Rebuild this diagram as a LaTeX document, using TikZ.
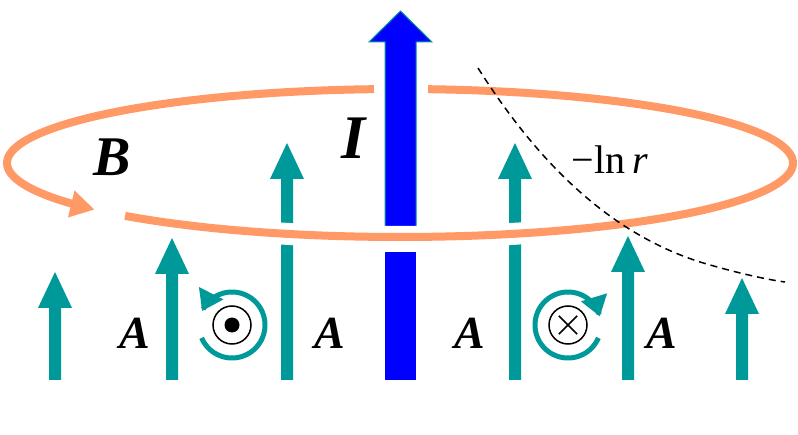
\documentclass[tikz,border=0pt]{standalone}
\usepackage{fontspec}
\setmainfont{Liberation Serif}
\usetikzlibrary{arrows.meta}
\definecolor{teal2}{HTML}{009999}
\definecolor{orng}{HTML}{FF9966}
\begin{document}
\begin{tikzpicture}[x=1pt,y=-1pt,
  lab/.style={font=\fontsize{46}{46}\selectfont\bfseries\itshape},
  ring/.style={teal2,line width=5pt,-{Triangle[length=20pt,width=26pt]}},
  ell/.style={orng,line width=8pt}]
\useasboundingbox (0,0) rectangle (798,435);
% teal arrows
\foreach \n/\x/\t in {a1/55/272,a2/172/238,a3/287/143,a4/515/143,a5/628/236,a6/742/278}{
  \fill[teal2] (\x-6,380) -- (\x-6,\t+36) -- (\x-17,\t+36) -- (\x,\t) coordinate (\n) -- (\x+17,\t+36) -- (\x+6,\t+36) -- (\x+6,380) -- cycle;
}
% blue arrow
\fill[blue] (385,252) rectangle (416,380);
\draw[teal2,line width=1pt,fill=blue] (385,230) -- (385,42) -- (369,42) -- (400.5,11) coordinate (itip) -- (432,42) -- (416,42) -- (416,230) -- cycle;
% ellipse
\draw[white,line width=22pt] plot[domain=225:340,samples=60] ({400+393*cos(\x)},{163-74*sin(\x)});
\draw[ell] plot[domain=225.6:445.9,samples=150] ({400+393*cos(\x)},{163-74*sin(\x)});
\draw[ell,-{Triangle[length=24pt,width=26pt]}] plot[domain=93.8:219,samples=80] ({400+393*cos(\x)},{163-74*sin(\x)});
% dashed curve
\draw[line width=1.5pt,dash pattern=on 7pt off 5pt] (478,68) .. controls (530,150) and (600,230) .. (700,262) .. controls (740,274) and (770,280) .. (785,282);
% labels
\node[font=\fontsize{56}{56}\selectfont\bfseries\itshape] (B) at (112,157) {B};
\node[font=\fontsize{62}{62}\selectfont\bfseries\itshape] (I) at (354,138) {I};
\node[font=\fontsize{40}{40}\selectfont] (ln) at (610,160) {−ln\,\textit{r}};
\foreach \n/\x in {A1/135,A2/330,A3/470,A4/662}{\node[lab] (\n) at (\x,333) {A};}
% symbols
\draw[line width=1.5pt] (232,325) circle (19);
\fill (232,325) circle (7.5);
\draw[line width=1.5pt] (568,325) circle (19);
\draw[line width=1.5pt] (568,325) ++(45:13) -- ++(225:26) (568,325) ++(-45:13) -- ++(135:26);
\draw[ring] plot[domain=203:515,samples=80] ({232+33*cos(\x)},{325-33*sin(\x)});
\draw[ring] plot[domain=-23:-345,samples=80] ({568+33*cos(\x)},{325-33*sin(\x)});
\end{tikzpicture}
\end{document}
